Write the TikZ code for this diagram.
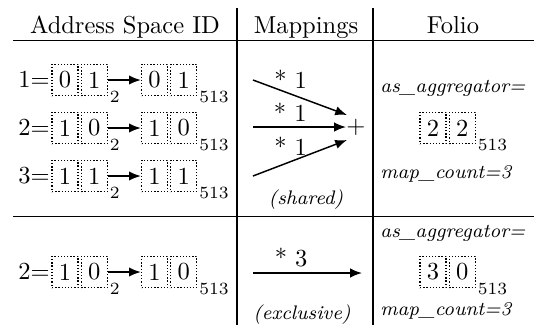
\documentclass[tikz,border=0pt]{standalone}
\usepackage{tikz}
\usetikzlibrary{arrows.meta, positioning}
\tikzset{
  cell/.style={
    draw, line width=0.55pt, dash pattern=on 0.55pt off 0.75pt,
    minimum width=10.6pt, minimum height=12.8pt, inner sep=0pt
  },
  sub/.style={anchor=base west, inner sep=0.6pt, font=\scriptsize},
  head/.style={anchor=base, inner sep=0pt},
  note/.style={inner sep=0pt, font=\footnotesize\itshape},
  var/.style={anchor=base west, inner sep=0pt, font=\footnotesize\itshape},
  lab/.style={above, inner sep=2pt},
  arrow/.style={-{Latex[length=4.8pt,width=3.8pt]}, line width=0.6pt},
  rule/.style={line width=0.7pt},
}
\begin{document}
\begin{tikzpicture}[x=0.408pt, y=-0.408pt, node distance=0.8pt]
  \useasboundingbox (0,0) rectangle (534,325);

  \node (h1) [head] at (125,33) {Address Space ID};
  \node (h2) [head] at (306,33) {Mappings};
  \node (h3) [head] at (453,33) {Folio};
  \draw [rule] (13,40.5) -- (534,40.5);
  \draw [rule] (13,216.5) -- (534,216.5);
  \draw [rule] (237,8) -- (237,325);
  \draw [rule] (373,8) -- (373,325);

  \node (a1) [cell] at (65,80) {0};
  \node (b1) [cell, right=of a1] {1};
  \node (s1) [sub] at ([yshift=-2.4pt]b1.south east) {2};
  \node (c1) [cell] at (154.5,80) {0};
  \node (d1) [cell, right=of c1] {1};
  \node (t1) [sub] at ([yshift=-2.4pt]d1.south east) {513};
  \node (n1) [left=0.5pt of a1, inner sep=0pt] {$1{=}$};
  \draw [arrow] (b1) -- (c1);

  \node (a2) [cell] at (65,128) {1};
  \node (b2) [cell, right=of a2] {0};
  \node (s2) [sub] at ([yshift=-2.4pt]b2.south east) {2};
  \node (c2) [cell] at (154.5,128) {1};
  \node (d2) [cell, right=of c2] {0};
  \node (t2) [sub] at ([yshift=-2.4pt]d2.south east) {513};
  \node (n2) [left=0.5pt of a2, inner sep=0pt] {$2{=}$};
  \draw [arrow] (b2) -- (c2);

  \node (a3) [cell] at (65,176) {1};
  \node (b3) [cell, right=of a3] {1};
  \node (s3) [sub] at ([yshift=-2.4pt]b3.south east) {2};
  \node (c3) [cell] at (154.5,176) {1};
  \node (d3) [cell, right=of c3] {1};
  \node (t3) [sub] at ([yshift=-2.4pt]d3.south east) {513};
  \node (n3) [left=0.5pt of a3, inner sep=0pt] {$3{=}$};
  \draw [arrow] (b3) -- (c3);

  \node (a4) [cell] at (65,272) {1};
  \node (b4) [cell, right=of a4] {0};
  \node (s4) [sub] at ([yshift=-2.4pt]b4.south east) {2};
  \node (c4) [cell] at (154.5,272) {1};
  \node (d4) [cell, right=of c4] {0};
  \node (t4) [sub] at ([yshift=-2.4pt]d4.south east) {513};
  \node (n4) [left=0.5pt of a4, inner sep=0pt] {$2{=}$};
  \draw [arrow] (b4) -- (c4);

  \coordinate (m1) at (253,80);
  \coordinate (m2) at (253,127);
  \coordinate (m3) at (253,176);
  \coordinate (e1) at (347,115);
  \coordinate (e3) at (347,140);
  \node (plus) [inner sep=0pt] at (356,127) {$+$};
  \draw [arrow] (m1) -- node[lab, pos=0.4] {* 1} (e1);
  \draw [arrow] (m2) -- node[lab, pos=0.4] {* 1} (plus);
  \draw [arrow] (m3) -- node[lab, pos=0.4] {* 1} (e3);
  \node (shared) [note] at (306,200) {(shared)};

  \coordinate (m4) at (253,273);
  \coordinate (e4) at (362,273);
  \draw [arrow] (m4) -- node[lab, pos=0.35] {* 3} (e4);
  \node (excl) [note] at (302,315) {(exclusive)};

  \node (agg1) [var] at (380,92) {as\_aggregator=};
  \node (f1) [cell] at (433,128) {2};
  \node (g1) [cell, right=of f1] {2};
  \node (u1) [sub] at ([yshift=-2.4pt]g1.south east) {513};
  \node (cnt1) [var] at (380,178) {map\_count=3};

  \node (agg2) [var] at (380,237) {as\_aggregator=};
  \node (f2) [cell] at (433,272) {3};
  \node (g2) [cell, right=of f2] {0};
  \node (u2) [sub] at ([yshift=-2.4pt]g2.south east) {513};
  \node (cnt2) [var] at (380,315) {map\_count=3};
\end{tikzpicture}
\end{document}
